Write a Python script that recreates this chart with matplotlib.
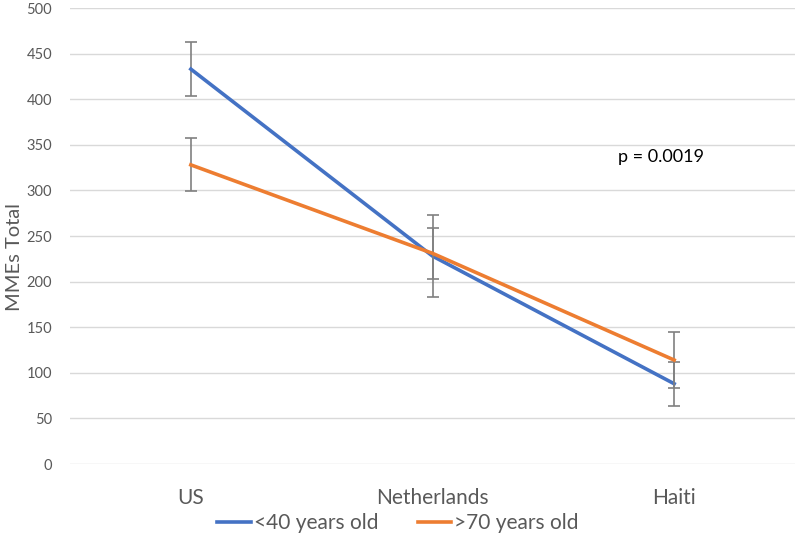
import matplotlib
matplotlib.use('Agg')
import matplotlib.pyplot as plt

countries = ['US', 'Netherlands', 'Haiti']
under40 = [433, 228, 88]
under40_err = [30, 45, 24]
over70 = [328, 231, 114]
over70_err = [29, 28, 31]
yticks = [0, 50, 100, 150, 200, 250, 300, 350, 400, 450, 500]

plt.rcParams['font.family'] = ['Lato', 'DejaVu Sans']

fig = plt.figure(figsize=(7.97, 5.39), dpi=100)
ax = fig.add_axes([70 / 797, 1 - 464 / 539, 725 / 797, 456 / 539])

x = list(range(len(countries)))
ebar = dict(ecolor='#808080', elinewidth=1.2, capsize=4.5, capthick=1.2)
ax.errorbar(x, under40, yerr=under40_err, color='#4472C4', lw=2.6,
            label='<40 years old', zorder=3, **ebar)
ax.errorbar(x, over70, yerr=over70_err, color='#ED7D31', lw=2.6,
            label='>70 years old', zorder=4, **ebar)

ax.set_xlim(-0.5, 2.5)
ax.set_ylim(0, 500)
ax.set_yticks(yticks)
ax.set_xticks(x)
ax.set_xticklabels(countries, fontsize=15, color='#595959')
ax.tick_params(axis='x', length=0, pad=17)
ax.tick_params(axis='y', length=0, pad=13, labelsize=10.5, labelcolor='#595959')
ax.grid(axis='y', color='#d9d9d9', lw=1)
ax.set_axisbelow(True)
for s in ax.spines.values():
    s.set_visible(False)

ax.text(618 / 797, 1 - 157 / 539, 'p = 0.0019', transform=fig.transFigure,
        fontsize=13, color='black', va='center', ha='left')
fig.text(15 / 797, 1 - 257 / 539, 'MMEs Total', rotation=90, fontsize=14.5,
         color='#595959', ha='center', va='center')

h, l = ax.get_legend_handles_labels()
h = [hh[0] for hh in h]
fig.legend(h, l, loc='center', bbox_to_anchor=(398 / 797, 1 - 523 / 539),
           ncol=2, frameon=False, fontsize=15, handlelength=1.6,
           handletextpad=0.15, columnspacing=1.9, labelcolor='#595959')

fig.savefig('out.png', dpi=100)
